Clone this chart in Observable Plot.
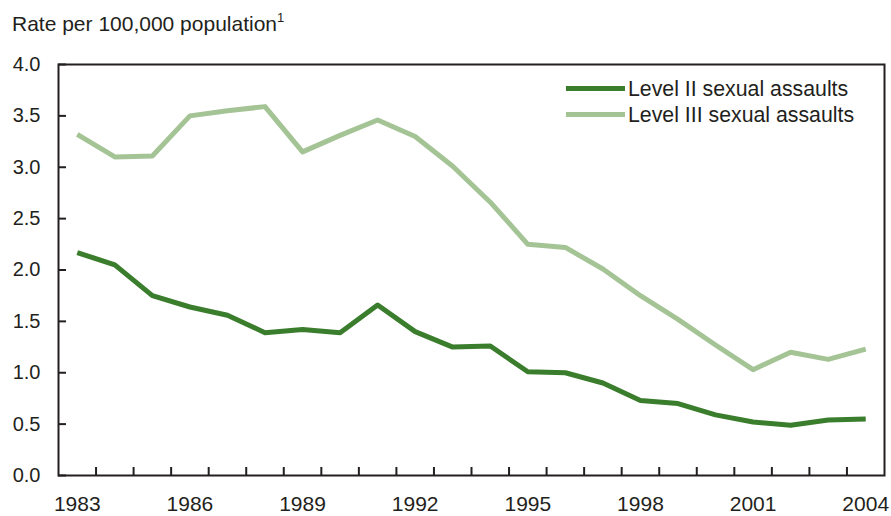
<!DOCTYPE html>
<html><head><meta charset="utf-8">
<script src="https://cdn.jsdelivr.net/npm/d3@7"></script>
<script src="https://cdn.jsdelivr.net/npm/@observablehq/plot@0.6"></script>
<style>
body{margin:0;background:#fff;font-family:"Liberation Sans",Arial,Helvetica,sans-serif;color:#231f20;}
#wrap{position:relative;width:891px;height:516px;overflow:hidden;}
#title{height:40px;box-sizing:border-box;padding-top:12px;padding-left:12px;font-size:21px;line-height:24px;white-space:nowrap;}
#title sup{font-size:13px;vertical-align:9px;line-height:0;}
#legend{position:absolute;left:566px;top:76px;font-size:21.3px;line-height:26px;}
.row{position:relative;height:26px;white-space:nowrap;}
.sw{position:absolute;left:0;top:10px;width:59px;height:5px;}
.lab{position:absolute;left:62px;top:0;}
</style></head><body>
<div id="wrap">
<div id="title">Rate per 100,000 population<sup>1</sup></div>
<div id="chart"></div>
<div id="legend"></div>
</div>
<script>
const years = [1983,1984,1985,1986,1987,1988,1989,1990,1991,1992,1993,1994,1995,1996,1997,1998,1999,2000,2001,2002,2003,2004];
const level2 = [2.17,2.05,1.75,1.64,1.56,1.39,1.42,1.39,1.66,1.40,1.25,1.26,1.01,1.00,0.90,0.73,0.70,0.59,0.52,0.49,0.54,0.55];
const level3 = [3.32,3.10,3.11,3.50,3.55,3.59,3.15,3.31,3.46,3.30,3.01,2.66,2.25,2.22,2.01,1.75,1.52,1.27,1.03,1.20,1.13,1.23];
const seriesNames = ["Level II sexual assaults","Level III sexual assaults"];
const seriesColors = ["#3a7d2c","#a5c496"];
const yTicks = [0,0.5,1,1.5,2,2.5,3,3.5,4];
const xLabelYears = [1983,1986,1989,1992,1995,1998,2001,2004];

const data = [
  ...years.map((yr,i)=>({year:yr,value:level2[i],series:seriesNames[0]})),
  ...years.map((yr,i)=>({year:yr,value:level3[i],series:seriesNames[1]}))
];
const font = '"Liberation Sans",Arial,Helvetica,sans-serif';
const chart = Plot.plot({
  width:891, height:476,
  marginTop:24, marginBottom:41, marginLeft:58, marginRight:7,
  style:{fontFamily:font, fontSize:"20px", color:"#231f20", background:"white", overflow:"visible"},
  x:{domain:[years[0]-0.5, years[years.length-1]+0.5], label:null},
  y:{domain:[0,4], label:null},
  color:{domain:seriesNames, range:seriesColors},
  marks:[
    Plot.axisX({ticks: years.slice(1).map(y=>y-0.5), tickSize:-8, tickFormat:()=>"", strokeWidth:2, stroke:"#231f20", label:null}),
    Plot.axisX({ticks: xLabelYears, tickSize:0, tickPadding:21, tickFormat:d=>String(d), fontSize:21, fill:"#231f20", label:null}),
    Plot.axisY({ticks: yTicks, tickSize:-8, tickFormat:()=>"", strokeWidth:2, stroke:"#231f20", label:null}),
    Plot.axisY({ticks: yTicks, tickSize:0, tickPadding:18, tickFormat:d3.format(".1f"), fontSize:20, fill:"#231f20", label:null}),
    Plot.line(data,{x:"year", y:"value", stroke:"series", strokeWidth:5, strokeLinecap:"butt", strokeLinejoin:"round"}),
    Plot.frame({stroke:"#231f20", strokeWidth:2})
  ]
});
document.getElementById("chart").appendChild(chart);

const legend = document.getElementById("legend");
seriesNames.forEach((name,i)=>{
  const row = document.createElement("div");
  row.className="row";
  const sw = document.createElement("div");
  sw.className="sw"; sw.style.background=seriesColors[i];
  const lab = document.createElement("div");
  lab.className="lab"; lab.textContent=name;
  row.appendChild(sw); row.appendChild(lab);
  legend.appendChild(row);
});
</script>
</body></html>
